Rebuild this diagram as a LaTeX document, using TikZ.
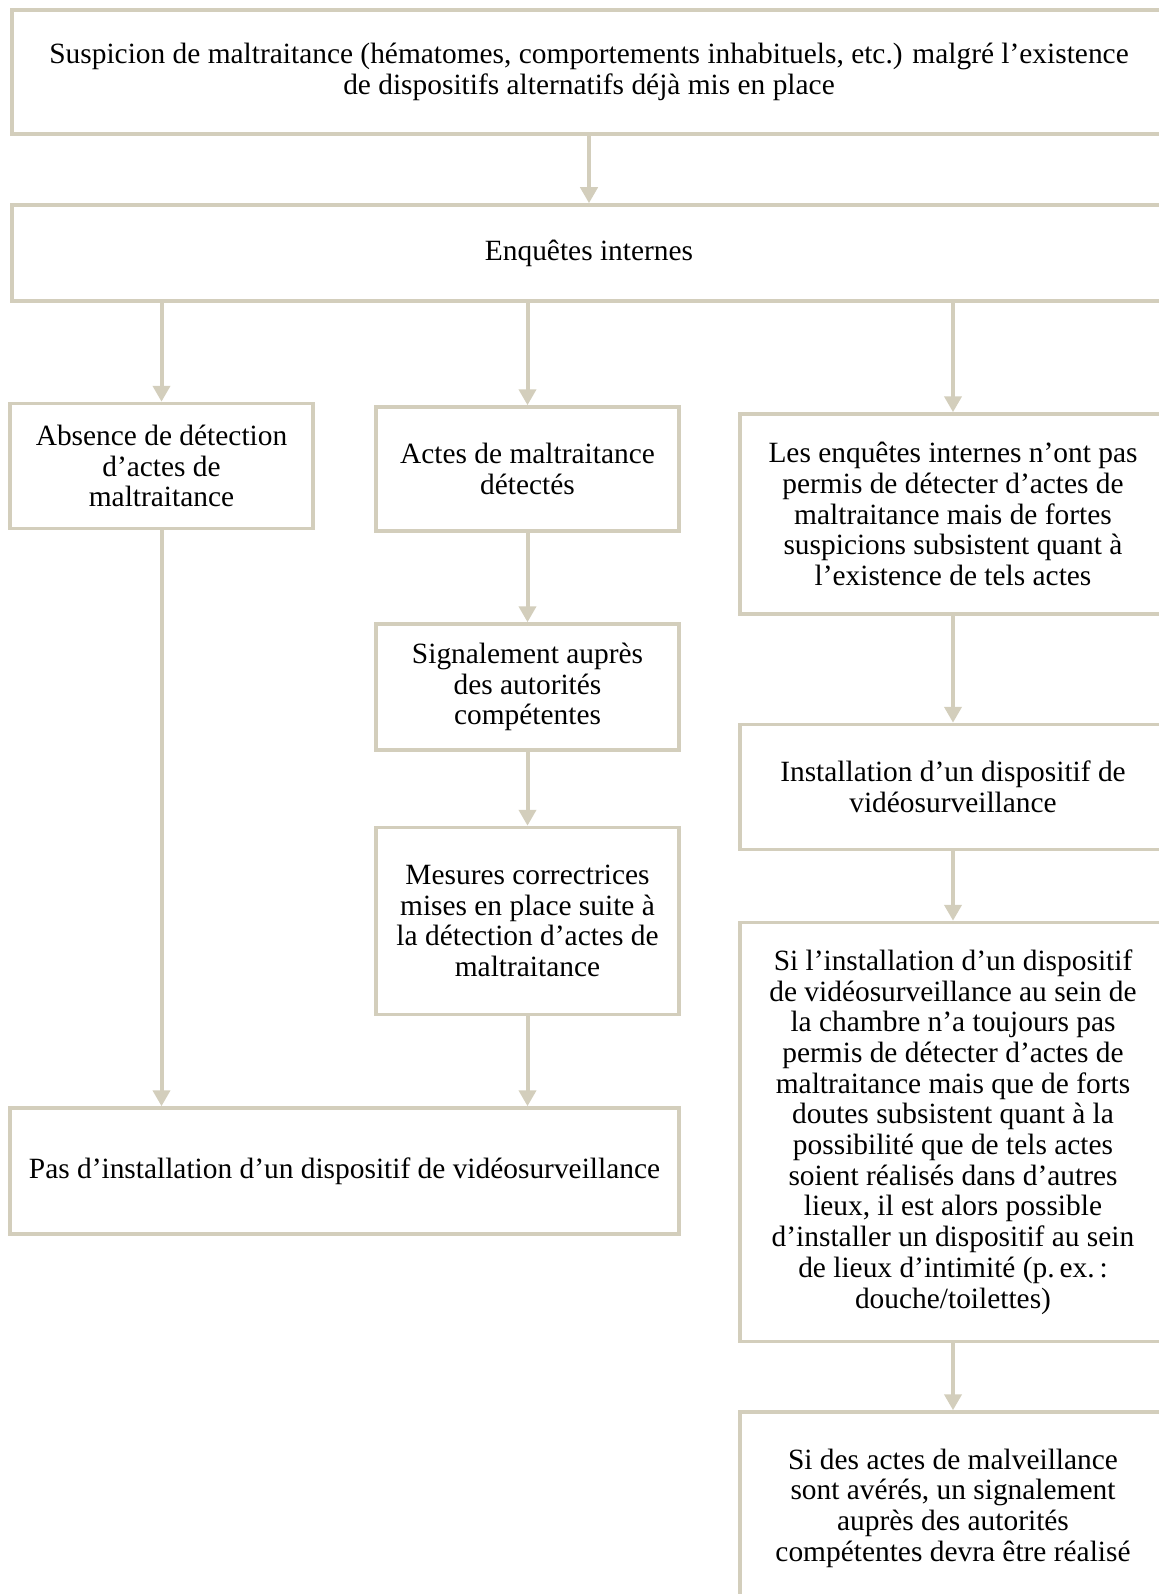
\documentclass[tikz,border=0pt]{standalone}
\usepackage{fontspec}
\setmainfont{Liberation Serif}
\usepackage{tikz}
\usetikzlibrary{arrows.meta, positioning}
\definecolor{beige}{RGB}{211,206,188}

\tikzset{
  box/.style={draw=beige, line width=1.75pt, fill=white, align=center,
    inner sep=0pt, font=\fontsize{14.7}{15.35}\selectfont},
  arrow/.style={draw=beige, line width=2pt, -{Triangle[width=8.5pt, length=8pt]}}
}

\begin{document}
\begin{tikzpicture}[x=0.5pt, y=-0.5pt]
  % Frame
  \useasboundingbox (0,0) rectangle (1159,1594);
  \clip (0,0) rectangle (1159,1594);

  % Top boxes
  \node[box, minimum width=577pt, minimum height=62pt] (susp) at (589,72)
    {Suspicion de maltraitance (hématomes, comportements inhabituels, etc.) malgré l’existence\\
     de dispositifs alternatifs déjà mis en place};
  \node[box, minimum width=577pt, minimum height=48pt] (enq) at (589,253)
    {Enquêtes internes};

  % Left column
  \node[box, minimum width=151.5pt, minimum height=62.5pt] (absence) at (161.5,466)
    {Absence de détection\\ d’actes de\\ maltraitance};

  % Middle column
  \node[box, minimum width=151.5pt, minimum height=62pt] (actes) at (527.5,469)
    {Actes de maltraitance\\ détectés};
  \node[box, minimum width=151.5pt, minimum height=63pt] (signal) at (527.5,687)
    {Signalement auprès\\ des autorités\\ compétentes};
  \node[box, minimum width=151.5pt, minimum height=93.5pt] (mesures) at (527.5,921)
    {Mesures correctrices\\ mises en place suite à\\ la détection d’actes de\\ maltraitance};
  \node[box, minimum width=334.5pt, minimum height=63pt] (pasinst) at (344.5,1171)
    {Pas d’installation d’un dispositif de vidéosurveillance};

  % Right column
  \node[box, minimum width=213pt, minimum height=100pt] (fortes) at (953,514)
    {Les enquêtes internes n’ont pas\\ permis de détecter d’actes de\\
     maltraitance mais de fortes\\ suspicions subsistent quant à\\ l’existence de tels actes};
  \node[box, minimum width=213pt, minimum height=62.5pt] (install) at (953,787)
    {Installation d’un dispositif de\\ vidéosurveillance};
  \node[box, minimum width=213pt, minimum height=209.5pt] (intime) at (953,1132)
    {Si l’installation d’un dispositif\\ de vidéosurveillance au sein de\\
     la chambre n’a toujours pas\\ permis de détecter d’actes de\\
     maltraitance mais que de forts\\ doutes subsistent quant à la\\
     possibilité que de tels actes\\ soient réalisés dans d’autres\\
     lieux, il est alors possible\\ d’installer un dispositif au sein\\
     de lieux d’intimité (p.\,ex.\,:\\ douche/toilettes)};
  \node[box, minimum width=213pt, minimum height=96pt] (avere) at (953,1508)
    {Si des actes de malveillance\\ sont avérés, un signalement\\
     auprès des autorités\\ compétentes devra être réalisé};

  % Connectors
  \draw[arrow] (susp) -- (enq);
  \foreach \a/\b in {actes/signal, signal/mesures, fortes/install, install/intime, intime/avere}
    \draw[arrow] (\a) -- (\b);
  \foreach \b in {absence, actes, fortes}
    \draw[arrow] (enq.south -| \b.north) -- (\b.north);
  \foreach \a in {absence, mesures}
    \draw[arrow] (\a.south) -- (pasinst.north -| \a.south);
\end{tikzpicture}
\end{document}
